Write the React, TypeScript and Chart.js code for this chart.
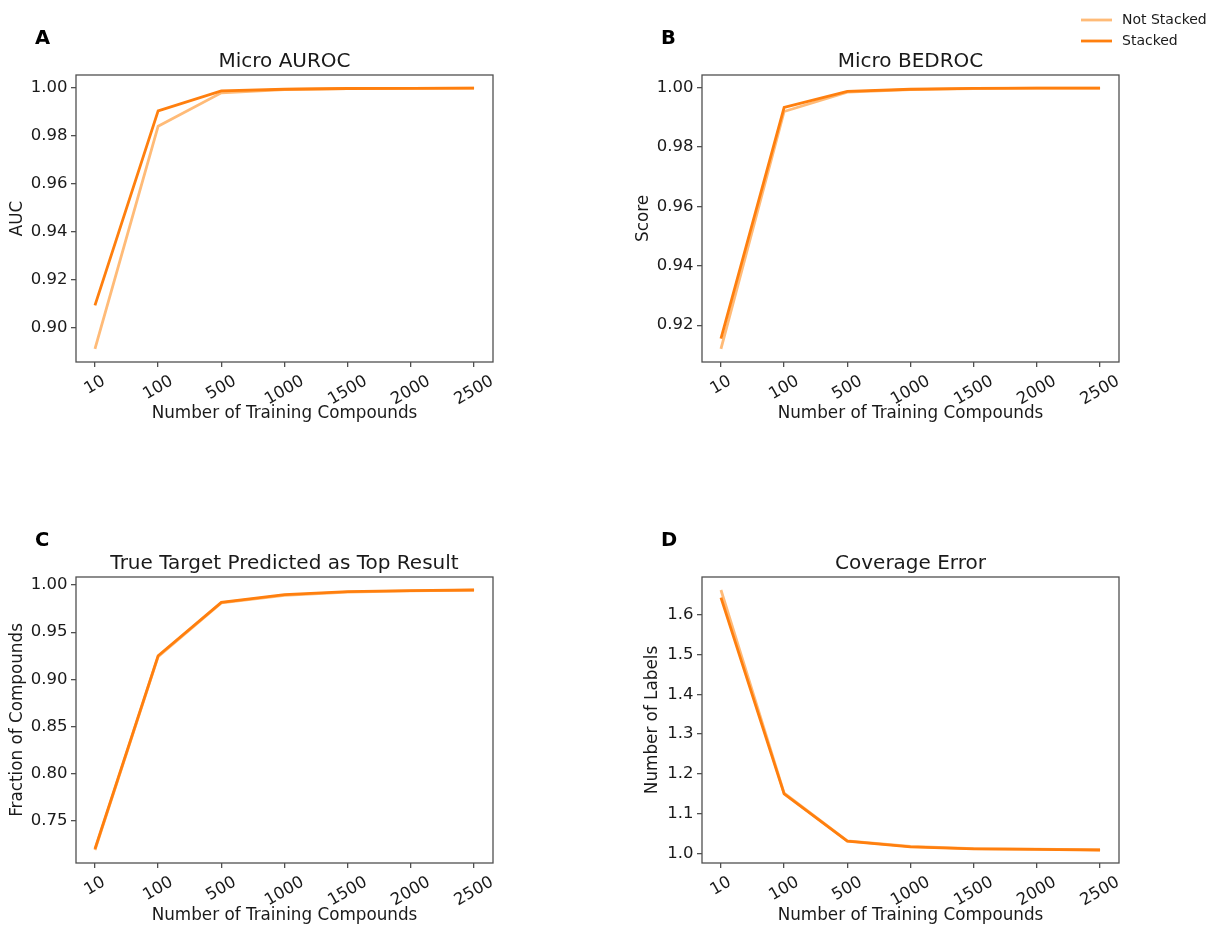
import React, { useEffect, useRef } from "react";
import { Chart, registerables } from "chart.js";

Chart.register(...registerables);

// ---------- data ----------
const categories = ["10", "100", "500", "1000", "1500", "2000", "2500"];
const seriesNames = ["Not Stacked", "Stacked"];
const seriesColors = ["#ffbb78", "#ff7f0e"];

const aurocNotStacked = [0.891, 0.984, 0.9979, 0.9993, 0.9997, 0.9998, 0.9999];
const aurocStacked = [0.9092, 0.9904, 0.9987, 0.9994, 0.9997, 0.9998, 0.9999];

const bedrocNotStacked = [0.912, 0.992, 0.9985, 0.9994, 0.9997, 0.9999, 0.9999];
const bedrocStacked = [0.9155, 0.9934, 0.9988, 0.9995, 0.9998, 0.9999, 0.9999];

const topNotStacked = [0.719, 0.924, 0.981, 0.989, 0.9925, 0.9938, 0.9945];
const topStacked = [0.72, 0.925, 0.9815, 0.9898, 0.993, 0.994, 0.9947];

const coverageNotStacked = [1.662, 1.152, 1.032, 1.018, 1.0125, 1.011, 1.0095];
const coverageStacked = [1.643, 1.15, 1.031, 1.017, 1.012, 1.0105, 1.009];

const aurocTicks = [0.9, 0.92, 0.94, 0.96, 0.98, 1.0];
const bedrocTicks = [0.92, 0.94, 0.96, 0.98, 1.0];
const topTicks = [0.75, 0.8, 0.85, 0.9, 0.95, 1.0];
const coverageTicks = [1.0, 1.1, 1.2, 1.3, 1.4, 1.5, 1.6];

// ---------- styling ----------
const FONT = "'DejaVu Sans', 'Liberation Sans', sans-serif";
const TEXT = "#1a1a1a";
const SPINE = "#505050";
const CW = 606;
const CH = 463;
const TICK_SIZE = 16.5;
const LABEL_SIZE = 16.8;
const TITLE_SIZE = 20;

type Panel = {
  letter: string;
  title: string;
  yTitle: string;
  series: number[][];
  yTicks: number[];
  decimals: number;
  left: number;
  top: number;
  area: { l: number; r: number; t: number; b: number };
  yTitlePad: number;
  xTitlePad: number;
  legend: boolean;
};

const panels: Panel[] = [
  {
    letter: "A",
    title: "Micro AUROC",
    yTitle: "AUC",
    series: [aurocNotStacked, aurocStacked],
    yTicks: aurocTicks,
    decimals: 2,
    left: 0,
    top: 0,
    area: { l: 76, r: 493, t: 75, b: 362 },
    yTitlePad: 8,
    xTitlePad: 39,
    legend: false,
  },
  {
    letter: "B",
    title: "Micro BEDROC",
    yTitle: "Score",
    series: [bedrocNotStacked, bedrocStacked],
    yTicks: bedrocTicks,
    decimals: 2,
    left: 606,
    top: 0,
    area: { l: 96, r: 513, t: 75, b: 362 },
    yTitlePad: 28,
    xTitlePad: 39,
    legend: true,
  },
  {
    letter: "C",
    title: "True Target Predicted as Top Result",
    yTitle: "Fraction of Compounds",
    series: [topNotStacked, topStacked],
    yTicks: topTicks,
    decimals: 2,
    left: 0,
    top: 463,
    area: { l: 76, r: 493, t: 114, b: 400 },
    yTitlePad: 8,
    xTitlePad: 0,
    legend: false,
  },
  {
    letter: "D",
    title: "Coverage Error",
    yTitle: "Number of Labels",
    series: [coverageNotStacked, coverageStacked],
    yTicks: coverageTicks,
    decimals: 1,
    left: 606,
    top: 463,
    area: { l: 96, r: 513, t: 114, b: 400 },
    yTitlePad: 37,
    xTitlePad: 0,
    legend: false,
  },
];

function makePlugin(p: Panel) {
  return {
    id: "decor" + p.letter,
    afterDraw(chart: any) {
      const ctx = chart.ctx;
      const a = chart.chartArea;
      ctx.save();
      // frame (spines)
      ctx.strokeStyle = SPINE;
      ctx.lineWidth = 1.3;
      ctx.strokeRect(a.left, a.top, a.right - a.left, a.bottom - a.top);

      // title
      ctx.fillStyle = TEXT;
      ctx.font = `${TITLE_SIZE}px ${FONT}`;
      ctx.textAlign = "center";
      ctx.textBaseline = "middle";
      ctx.fillText(p.title, (a.left + a.right) / 2, a.top - 13.5);

      // panel letter
      ctx.font = `bold 19.5px ${FONT}`;
      ctx.textAlign = "left";
      ctx.fillStyle = "#000";
      ctx.fillText(p.letter, a.left - 41, a.top - 36);

      // rotated x tick labels (centered like matplotlib)
      const xs = chart.scales.x;
      ctx.font = `${TICK_SIZE}px ${FONT}`;
      ctx.fillStyle = TEXT;
      const ang = Math.PI / 6;
      xs.ticks.forEach((t: any) => {
        const label = categories[t.value];
        if (label === undefined) return;
        const px = xs.getPixelForValue(t.value);
        const w = ctx.measureText(label).width;
        const h = TICK_SIZE * 1.05;
        const bh = w * Math.sin(ang) + h * Math.cos(ang);
        const cy = a.bottom + 5 + 5.5 + bh / 2;
        ctx.save();
        ctx.translate(px, cy);
        ctx.rotate(-ang);
        ctx.textAlign = "center";
        ctx.textBaseline = "middle";
        ctx.fillText(label, 0, 0);
        ctx.restore();
      });

      // legend
      if (p.legend) {
        chart.data.datasets.forEach((ds: any, i: number) => {
          const y = 20 + 21 * i;
          ctx.strokeStyle = ds.borderColor;
          ctx.lineWidth = 2.8;
          ctx.beginPath();
          ctx.moveTo(475, y);
          ctx.lineTo(506, y);
          ctx.stroke();
          ctx.fillStyle = TEXT;
          ctx.font = `14px ${FONT}`;
          ctx.textAlign = "left";
          ctx.textBaseline = "middle";
          ctx.fillText(ds.label, 516, y);
        });
      }
      ctx.restore();
    },
  };
}

function PanelChart({ p }: { p: Panel }) {
  const ref = useRef<HTMLCanvasElement | null>(null);
  useEffect(() => {
    if (!ref.current) return;
    const all = p.series.flat();
    const lo = Math.min(...all);
    const hi = Math.max(...all);
    const m = (hi - lo) * 0.05;
    const gridOpts = {
      drawOnChartArea: false,
      drawTicks: true,
      tickLength: 5,
      color: SPINE,
      lineWidth: 1.3,
    };
    const chart = new Chart(ref.current, {
      type: "line",
      data: {
        datasets: p.series.map((vals, i) => ({
          label: seriesNames[i],
          data: vals.map((v, j) => ({ x: j, y: v })),
          borderColor: seriesColors[i],
          backgroundColor: seriesColors[i],
          borderWidth: 2.8,
          pointRadius: 0,
          tension: 0,
          fill: false,
          order: i === 1 ? 1 : 2,
        })),
      },
      options: {
        animation: false,
        responsive: false,
        devicePixelRatio: 1,
        events: [],
        layout: {
          padding: { left: 0, top: p.area.t, right: CW - p.area.r, bottom: 0 },
        },
        plugins: {
          legend: { display: false },
          tooltip: { enabled: false },
          title: { display: false },
        },
        scales: {
          x: {
            type: "linear",
            min: -0.3,
            max: categories.length - 1 + 0.3,
            afterBuildTicks: (s: any) => {
              s.ticks = categories.map((_, i) => ({ value: i }));
            },
            afterFit: (s: any) => {
              s.height = CH - p.area.b;
            },
            grid: gridOpts,
            border: { display: false },
            ticks: { display: false },
            title: {
              display: true,
              text: "Number of Training Compounds",
              color: TEXT,
              font: { family: FONT, size: LABEL_SIZE },
              padding: { top: 0, bottom: p.xTitlePad },
            },
          },
          y: {
            type: "linear",
            min: lo - m,
            max: hi + m,
            afterBuildTicks: (s: any) => {
              s.ticks = p.yTicks.map((v) => ({ value: v }));
            },
            afterFit: (s: any) => {
              s.width = p.area.l;
            },
            grid: gridOpts,
            border: { display: false },
            ticks: {
              color: TEXT,
              font: { family: FONT, size: TICK_SIZE },
              padding: 3.5,
              callback: (v: any) => Number(v).toFixed(p.decimals),
            },
            title: {
              display: true,
              text: p.yTitle,
              color: TEXT,
              font: { family: FONT, size: LABEL_SIZE },
              padding: { top: p.yTitlePad, bottom: 0 },
            },
          },
        },
      } as any,
      plugins: [makePlugin(p)],
    });
    return () => chart.destroy();
  }, [p]);
  return (
    <canvas
      ref={ref}
      width={CW}
      height={CH}
      style={{ position: "absolute", left: p.left, top: p.top, width: CW, height: CH }}
    />
  );
}

export default function App() {
  return (
    <div
      style={{
        position: "absolute",
        left: 0,
        top: 0,
        width: 1212,
        height: 926,
        background: "#fff",
      }}
    >
      {panels.map((p) => (
        <PanelChart key={p.letter} p={p} />
      ))}
    </div>
  );
}
